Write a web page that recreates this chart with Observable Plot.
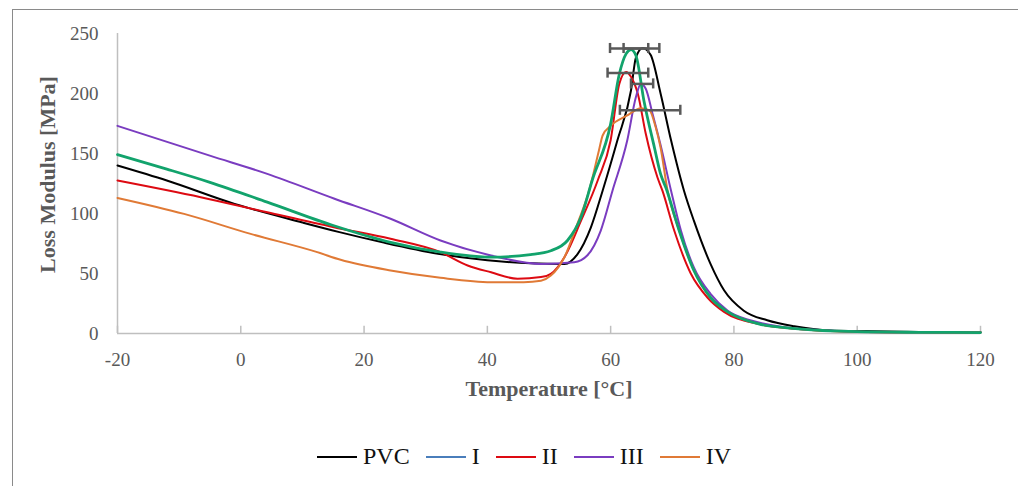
<!DOCTYPE html>
<html><head><meta charset="utf-8">
<script src="https://cdn.jsdelivr.net/npm/d3@7"></script>
<script src="https://cdn.jsdelivr.net/npm/@observablehq/plot@0.6"></script>
<style>
body{margin:0;background:#fff;width:1018px;height:486px;overflow:hidden;position:relative;font-family:"Liberation Serif",serif}
#frame{position:absolute;left:12px;top:9px;width:1100px;height:600px;border-top:1.5px solid #8a8a8a;border-left:1.5px solid #8a8a8a}
#chart{position:absolute;left:0;top:0}
#legend{position:absolute;top:443px;left:317px;display:flex;align-items:center;font-size:24px;color:#111;white-space:nowrap}
.item{display:flex;align-items:center;margin-right:16px}
.sw{width:40px;height:0;border-top:2.5px solid;margin-right:6px}
</style>
</head><body>
<div id="frame"></div>
<div id="chart"></div>
<div id="legend"></div>
<script>
const seriesNames = ["PVC", "I", "II", "III", "IV"];
const lineColors = ["#000000", "#12a36c", "#dd0a12", "#7a3cc0", "#e07a36"];
const legendColors = ["#000000", "#4a7ebb", "#dd0a12", "#7a3cc0", "#e07a36"];
const xTicks = [-20, 0, 20, 40, 60, 80, 100, 120];
const yTicks = [0, 50, 100, 150, 200, 250];

const pvcT = [-20, -12, -1, 10, 16, 23, 32, 40, 47, 52.5, 54.6, 56.8, 58.7, 61.1, 63.3, 64.1, 65.2, 66.5, 68.1, 69.8, 71.9, 73.5, 76.2, 78.4, 81.6, 85.4, 89.8, 95.7, 100, 110, 120];
const pvcV = [140, 127.5, 108, 92.5, 84.5, 76, 66.5, 61, 58.5, 58, 66, 88.5, 119, 161, 202.5, 230, 238, 232, 200, 161, 119, 94, 58, 36, 19, 11, 6, 2.5, 2, 1.2, 1];

const iT = [-20, -12, -5, 4.3, 15, 24.3, 32.4, 40.6, 47, 50.3, 53, 55.2, 57, 60, 61.4, 62.5, 63.3, 64.1, 65.4, 67.1, 68.1, 69, 71.1, 73.5, 76.2, 79, 84, 90, 100, 110, 120];
const iV = [149, 137, 126, 109.5, 90, 76, 67.8, 63.6, 65.8, 69, 77.5, 97, 127.5, 174.7, 216, 233, 236.5, 231.7, 194, 155, 133, 121, 86, 52.5, 30, 18, 8, 4, 1.5, 1, 0.8];

const iiT = [-20, -6.5, 4.3, 15.1, 24.3, 32.4, 36.8, 40.6, 44.9, 48.7, 50.3, 52.5, 55.2, 57.9, 60, 61.4, 62.5, 63.3, 64.4, 65.7, 67.6, 68.4, 70.3, 73, 75.7, 78.4, 84, 90, 100, 110, 120];
const iiV = [127.5, 113.6, 101, 88.6, 79, 67.8, 56.7, 51, 45.6, 47, 49.7, 63.6, 94, 127.5, 161, 208, 218, 214, 200, 166.4, 130, 119, 86, 50, 30, 18, 8, 4, 1.5, 1, 0.8];

const iiiT = [-20, -4.9, 4.3, 15.1, 24.3, 32.4, 40.6, 48.7, 54.1, 56.2, 58.4, 60.3, 62.7, 64.1, 64.9, 65.7, 66.8, 68.1, 69.8, 71.4, 73.5, 76.2, 79, 82.8, 88.1, 95, 100, 110, 120];
const iiiV = [173, 148, 133, 112.5, 95.6, 77.5, 65, 58, 59.4, 65, 85.8, 119, 161, 197, 208, 204, 183, 157, 119, 85.8, 55, 33, 19, 10.8, 5.3, 2.5, 1.5, 1, 0.8];

const ivT = [-20, -9.2, 1.6, 12.4, 16.2, 24.3, 32.4, 40.6, 45.9, 48.7, 50.3, 52.5, 54.6, 56.5, 58.1, 58.7, 60, 62.7, 64.9, 66.3, 67.3, 68.1, 69.2, 71.1, 73.5, 76.2, 79, 84, 90, 100, 110, 120];
const ivV = [113, 99.7, 83, 67.8, 61.4, 52.5, 46.4, 42.8, 42.8, 44, 48.3, 63.6, 91.4, 119, 152.5, 165, 173, 181.7, 187.8, 186, 172, 155, 120, 86, 53, 30, 18, 8, 4, 1.5, 1, 0.8];

// error bars at peaks: temperature, modulus, +/- half-width in °C
const errSeries = ["PVC", "I", "II", "III", "IV"];
const errT = [65, 63, 62.8, 65.1, 66.4];
const errV = [237.5, 237.5, 217, 208, 186];
const errSD = [2.9, 3.1, 3.3, 1.8, 4.9];

const seriesT = [pvcT, iT, iiT, iiiT, ivT];
const seriesV = [pvcV, iV, iiV, iiiV, ivV];
const rows = [];
seriesNames.forEach((name, k) => seriesT[k].forEach((t, i) => rows.push({series: name, t, v: seriesV[k][i]})));
const errRows = errSeries.map((s, i) => ({series: s, t: errT[i], v: errV[i], lo: errT[i] - errSD[i], hi: errT[i] + errSD[i]}));

const drawOrder = ["PVC", "II", "III", "IV", "I"];
const widths = {"PVC": 2, "I": 2.8, "II": 2, "III": 2, "IV": 2};

const axisGray = "#bfbfbf";
const chart = Plot.plot({
  width: 1018,
  height: 420,
  marginTop: 33,
  marginBottom: 87,
  marginLeft: 117,
  marginRight: 38,
  style: {fontFamily: "Liberation Serif, serif", fontSize: "19px", color: "#595959", background: "transparent"},
  x: {domain: [-20, 120], label: null},
  y: {domain: [0, 250], label: null},
  marks: [
    Plot.ruleY([0], {stroke: axisGray, strokeWidth: 1.5}),
    Plot.ruleX([-20], {stroke: axisGray, strokeWidth: 1.5}),
    Plot.ruleX(xTicks, {y1: 0, y2: 6, stroke: axisGray, strokeWidth: 1.5}),
    Plot.axisX({ticks: xTicks, tickSize: 0, tickPadding: 19, label: null, fill: "#595959", tickFormat: d => String(d)}),
    Plot.axisY({ticks: yTicks, tickSize: 0, tickPadding: 19, label: null, fill: "#595959", tickFormat: d => String(d)}),
    ...drawOrder.map(name => Plot.line(rows.filter(d => d.series === name), {
      x: "t", y: "v", stroke: lineColors[seriesNames.indexOf(name)],
      strokeWidth: widths[name], curve: "monotone-x"
    })),
    Plot.ruleY(errRows, {x1: "lo", x2: "hi", y: "v", stroke: "#595959", strokeWidth: 2.5}),
    Plot.ruleX(errRows, {x: "lo", y1: d => d.v - 4.2, y2: d => d.v + 4.2, stroke: "#595959", strokeWidth: 2.5}),
    Plot.ruleX(errRows, {x: "hi", y1: d => d.v - 4.2, y2: d => d.v + 4.2, stroke: "#595959", strokeWidth: 2.5}),
    Plot.text(["Temperature [°C]"], {frameAnchor: "bottom", dy: 62, fontWeight: "bold", fontSize: 22, fill: "#595959"}),
    Plot.text(["Loss Modulus [MPa]"], {frameAnchor: "left", textAnchor: "middle", dx: -70, dy: -9, rotate: -90, fontWeight: "bold", fontSize: 22, fill: "#595959", letterSpacing: "1.5px"})
  ]
});
document.getElementById("chart").appendChild(chart);

const legend = document.getElementById("legend");
seriesNames.forEach((name, k) => {
  const item = document.createElement("div");
  item.className = "item";
  const sw = document.createElement("div");
  sw.className = "sw";
  sw.style.borderTopColor = legendColors[k];
  const lab = document.createElement("span");
  lab.textContent = name;
  item.appendChild(sw);
  item.appendChild(lab);
  legend.appendChild(item);
});
</script>
</body></html>
